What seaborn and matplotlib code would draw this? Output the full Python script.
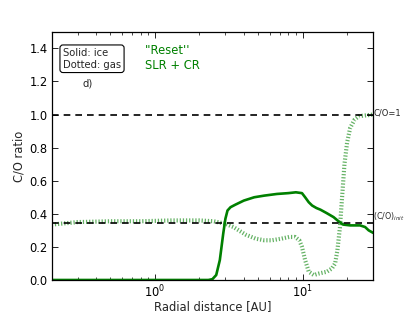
import numpy as np
import pandas as pd
import matplotlib
matplotlib.use("Agg")
import matplotlib.pyplot as plt
import seaborn as sns
from matplotlib.ticker import LogLocator, MultipleLocator, NullFormatter

# Data
solid_x = [0.2, 1.0, 2.0, 2.3, 2.45, 2.6, 2.75, 2.9, 3.0, 3.1, 3.25, 3.5, 4.0, 4.7, 5.5,
           6.7, 8.0, 9.0, 9.9, 10.4, 11.0, 11.6, 12.4, 13.2, 14.5, 16.2, 17.5, 18.8,
           21.0, 24.5, 26.5, 28.0, 30.0]
solid_y = [0.0, 0.0, 0.0, 0.0, 0.005, 0.03, 0.12, 0.28, 0.37, 0.42, 0.44, 0.455, 0.48,
           0.50, 0.51, 0.52, 0.525, 0.53, 0.525, 0.50, 0.47, 0.45, 0.435, 0.425, 0.405,
           0.38, 0.355, 0.335, 0.33, 0.33, 0.32, 0.30, 0.285]

gas_x = [0.2, 0.3, 0.5, 0.8, 1.3, 2.0, 2.5, 3.0, 3.4, 4.1, 4.8, 5.5, 6.2, 7.2, 8.1,
         8.9, 9.5, 9.9, 10.4, 11.0, 11.9, 13.0, 14.6, 15.8, 16.6, 17.2, 17.9, 18.5,
         19.2, 20.0, 21.0, 22.5, 24.0, 30.0]
gas_y = [0.335, 0.35, 0.355, 0.355, 0.36, 0.36, 0.355, 0.34, 0.32, 0.275, 0.25, 0.24,
         0.24, 0.25, 0.26, 0.26, 0.24, 0.2, 0.12, 0.05, 0.03, 0.04, 0.05, 0.07, 0.1,
         0.18, 0.32, 0.5, 0.7, 0.83, 0.92, 0.97, 0.99, 1.0]

co_one = 1.0
co_init = 0.345

sns.set_theme(style="ticks")
plt.rcParams['font.family'] = ['DejaVu Sans']

fig = plt.figure(figsize=(4.15, 3.12), dpi=100)
ax = fig.add_axes([0.1246, 0.1026, 0.7744, 0.7954])

df_s = pd.DataFrame({"x": solid_x, "y": solid_y})
df_g = pd.DataFrame({"x": gas_x, "y": gas_y})

sns.lineplot(data=df_g, x="x", y="y", ax=ax, color="green", alpha=0.6,
             linewidth=3.0, sort=False, estimator=None, dashes=False)
ax.lines[-1].set_dashes((0.3, 0.45))
sns.lineplot(data=df_s, x="x", y="y", ax=ax, color="green",
             linewidth=1.9, sort=False, estimator=None)

ax.axhline(co_one, color="black", linestyle="--", linewidth=1.2, dashes=(4, 3))
ax.axhline(co_init, color="black", linestyle="--", linewidth=1.2, dashes=(4, 3))

ax.set_xscale("log")
ax.set_xlim(0.2, 30)
ax.set_ylim(0, 1.5)
ax.yaxis.set_major_locator(MultipleLocator(0.2))
ax.xaxis.set_minor_locator(LogLocator(base=10, subs=np.arange(2, 10)))
ax.xaxis.set_minor_formatter(NullFormatter())

ax.tick_params(which="both", direction="in", top=True, right=True, labelsize=8.3,
               colors="black")
ax.tick_params(which="major", length=4, width=0.6, pad=3)
ax.tick_params(which="minor", length=2, width=0.5)
for s in ax.spines.values():
    s.set_linewidth(0.9)
    s.set_color("black")

ax.set_xlabel("Radial distance [AU]", fontsize=8.3, labelpad=-0.5)
ax.set_ylabel("C/O ratio", fontsize=8.3, labelpad=3)

ax.text(1.0, co_one + 0.01, "C/O=1", transform=ax.get_yaxis_transform(),
        fontsize=6, va="center", ha="left")
ax.text(1.0, co_init + 0.035, "(C/O)$_{\\it{init}}$", transform=ax.get_yaxis_transform(),
        fontsize=5.7, va="center", ha="left")

ax.text(0.035, 0.935, "Solid: ice\nDotted: gas", transform=ax.transAxes,
        fontsize=7.2, va="top", ha="left", linespacing=1.2,
        bbox=dict(boxstyle="round,pad=0.3", fc="white", ec="black", lw=0.8))
ax.text(0.113, 0.793, "d)", transform=ax.transAxes, fontsize=7.3, va="center",
        ha="center")
ax.text(0.29, 0.95, "''Reset''\nSLR + CR", transform=ax.transAxes,
        fontsize=8.3, va="top", ha="left", color="green", linespacing=1.15)

fig.savefig("out.png", dpi=100)
